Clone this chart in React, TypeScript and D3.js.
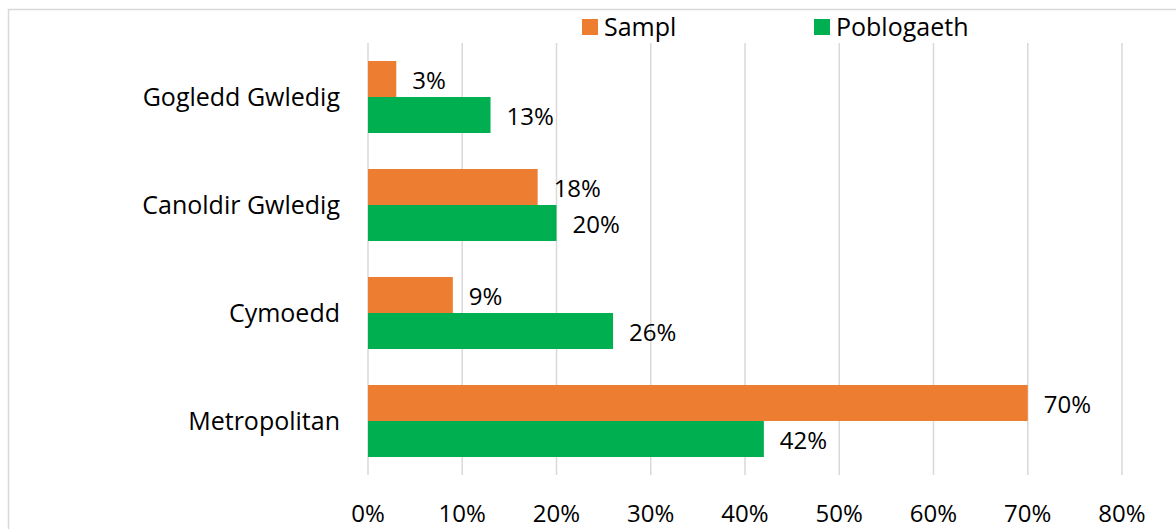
import { useEffect, useRef } from 'react';
import * as d3 from 'd3';

const categories = ['Gogledd Gwledig', 'Canoldir Gwledig', 'Cymoedd', 'Metropolitan'];
const seriesNames = ['Sampl', 'Poblogaeth'];
const samplValues = [3, 18, 9, 70];
const poblogaethValues = [13, 20, 26, 42];
const xTicks = [0, 10, 20, 30, 40, 50, 60, 70, 80];
const colors = ['#ed7d31', '#00b050'];

const FONT = '"Open Sans", Lato, sans-serif';
const FONT_SIZE = 25;

export default function App() {
  const svgRef = useRef<SVGSVGElement>(null);

  useEffect(() => {
    if (!svgRef.current) return;
    const width = 1176;
    const height = 529;
    const svg = d3.select(svgRef.current);
    svg.selectAll('*').remove();
    svg.attr('width', width).attr('height', height);

    // chart frame (runs off the right and bottom edges)
    svg.append('rect')
      .attr('x', 8.5)
      .attr('y', 9.5)
      .attr('width', 1200)
      .attr('height', 560)
      .attr('fill', '#fff')
      .attr('stroke', '#d9d9d9')
      .attr('stroke-width', 1.5);

    const plot = { left: 368, right: 1122, top: 43, bottom: 475 };

    const x = d3.scaleLinear().domain([0, 80]).range([plot.left, plot.right]);
    const y = d3.scaleBand<string>()
      .domain(categories)
      .range([plot.top, plot.bottom])
      .paddingInner(1 / 3)
      .paddingOuter(1 / 6);
    const sub = d3.scaleBand<string>()
      .domain(seriesNames)
      .range([0, y.bandwidth()]);

    // vertical grid
    svg.append('g')
      .selectAll('line')
      .data(xTicks)
      .join('line')
      .attr('x1', (d) => x(d))
      .attr('x2', (d) => x(d))
      .attr('y1', plot.top)
      .attr('y2', plot.bottom)
      .attr('stroke', '#d9d9d9')
      .attr('stroke-width', 1.5);

    // x tick labels
    svg.append('g')
      .selectAll('text')
      .data(xTicks)
      .join('text')
      .attr('x', (d) => x(d))
      .attr('y', 522)
      .attr('text-anchor', 'middle')
      .attr('font-family', FONT)
      .attr('font-size', 24)
      .attr('fill', '#000')
      .text((d) => `${d}%`);

    // category labels
    svg.append('g')
      .selectAll('text')
      .data(categories)
      .join('text')
      .attr('x', 340)
      .attr('y', (d) => (y(d) ?? 0) + y.bandwidth() / 2)
      .attr('dy', '0.35em')
      .attr('text-anchor', 'end')
      .attr('font-family', FONT)
      .attr('font-size', FONT_SIZE)
      .attr('fill', '#000')
      .text((d) => d);

    const series = [samplValues, poblogaethValues];
    series.forEach((vals, si) => {
      const name = seriesNames[si];
      const g = svg.append('g');
      g.selectAll('rect')
        .data(vals)
        .join('rect')
        .attr('x', x(0))
        .attr('y', (_, i) => (y(categories[i]) ?? 0) + (sub(name) ?? 0))
        .attr('width', (d) => x(d) - x(0))
        .attr('height', sub.bandwidth())
        .attr('fill', colors[si]);
      g.selectAll('text')
        .data(vals)
        .join('text')
        .attr('x', (d) => x(d) + 16)
        .attr('y', (_, i) => (y(categories[i]) ?? 0) + (sub(name) ?? 0) + sub.bandwidth() / 2 + 2)
        .attr('dy', '0.35em')
        .attr('font-family', FONT)
        .attr('font-size', 24)
        .attr('fill', '#000')
        .text((d) => `${d}%`);
    });

    // legend
    const legendX = [582, 814];
    seriesNames.forEach((name, i) => {
      svg.append('rect')
        .attr('x', legendX[i])
        .attr('y', 19)
        .attr('width', 16)
        .attr('height', 16)
        .attr('fill', colors[i]);
      svg.append('text')
        .attr('x', legendX[i] + 22)
        .attr('y', 27)
        .attr('dy', '0.35em')
        .attr('font-family', FONT)
        .attr('font-size', FONT_SIZE)
        .attr('fill', '#000')
        .text(name);
    });
  }, []);

  return (
    <div style={{ position: 'absolute', left: 0, top: 0 }}>
      <svg ref={svgRef} style={{ display: 'block' }} />
    </div>
  );
}
